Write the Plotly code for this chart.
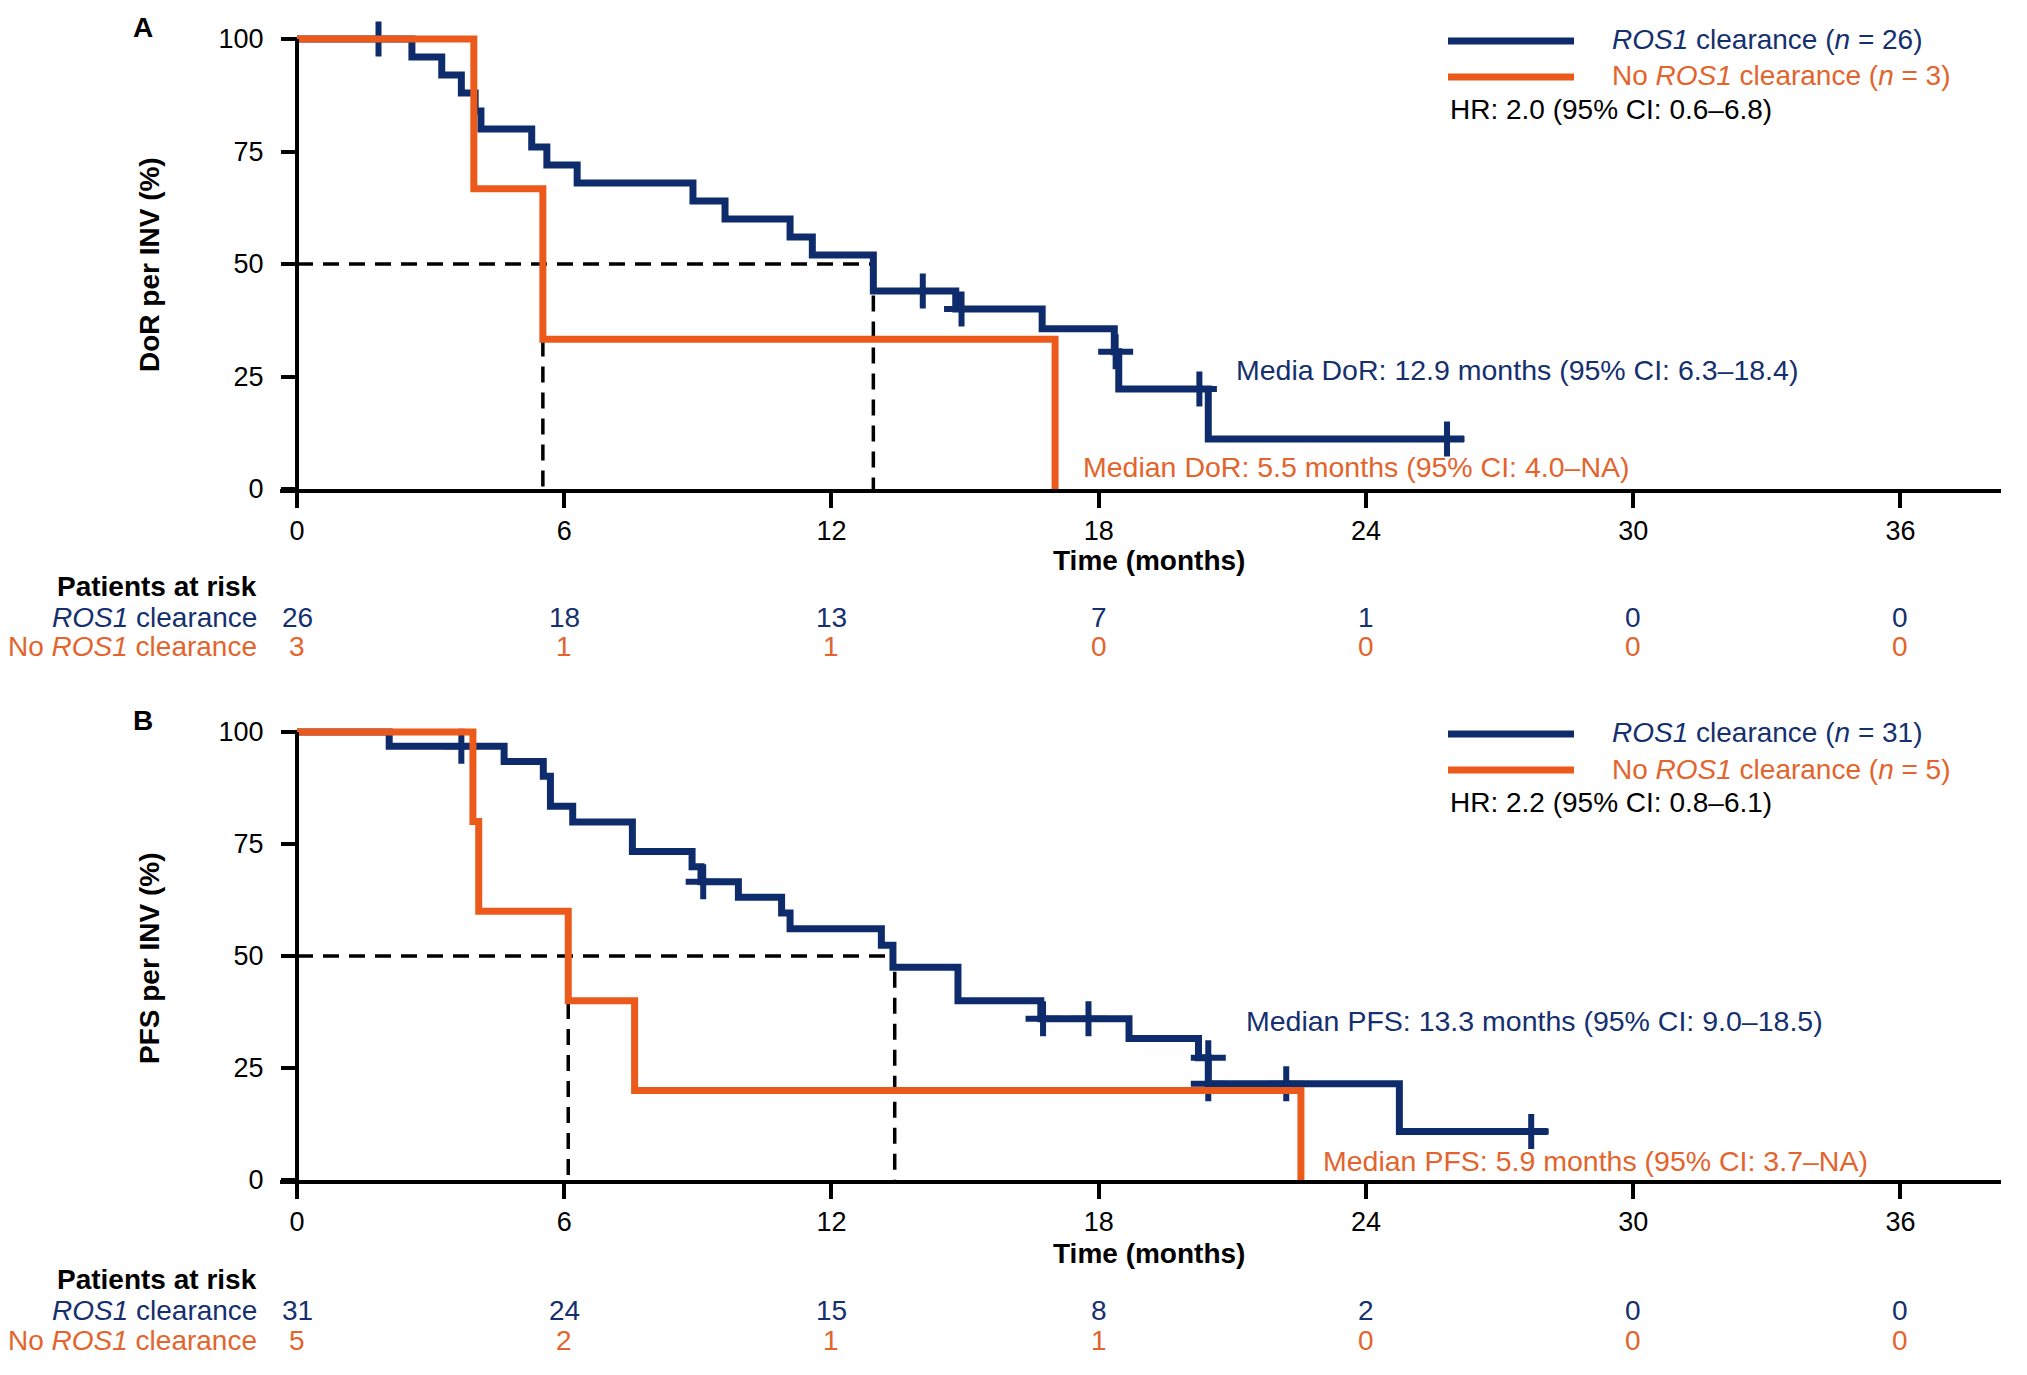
import plotly.graph_objects as go

W, H = 2027, 1375
PAGE_OFFSET = 8  # default body margin of the html page
NAVY = '#0e2c6c'
NAVY_TXT = '#15306e'
ORANGE = '#ec5a1b'
ORANGE_TXT = '#e3642c'
FONT = 'Arial, Liberation Sans, Helvetica, sans-serif'

# ---------------- data ----------------
risk_times = [0, 6, 12, 18, 24, 30, 36]
x_ticks = [0, 6, 12, 18, 24, 30, 36]
y_ticks = [0, 25, 50, 75, 100]

# Panel A: DoR per INV
a_clear_t = [0, 2.58, 3.25, 3.69, 4.0, 4.13, 5.27, 5.61, 6.29, 8.89, 9.61, 11.07, 11.57,
             12.94, 14.79, 16.73, 18.35, 18.45, 20.46, 26.2]
a_clear_s = [100, 96, 92, 88, 84, 80, 76, 72, 68, 64, 60, 56, 52,
             44, 40, 35.6, 30.5, 22.2, 11.1, 11.1]
a_clear_cens_t = [1.83, 14.05, 14.92, 18.38, 20.26, 25.82]
a_clear_cens_s = [100, 44, 40, 30.5, 22.2, 11.1]
a_no_t = [0, 3.97, 5.52, 17.02]
a_no_s = [100, 66.7, 33.3, 0]
a_med_clear = 12.94
a_med_clear_top = 43
a_med_no = 5.52
a_med_no_top = 33
a_risk_clear = [26, 18, 13, 7, 1, 0, 0]
a_risk_no = [3, 1, 1, 0, 0, 0, 0]

# Panel B: PFS per INV
b_clear_t = [0, 2.07, 4.65, 5.53, 5.69, 6.19, 7.53, 8.87, 9.07, 9.91, 10.88, 11.07,
             13.12, 13.38, 14.84, 16.7, 18.68, 20.24, 20.46, 24.75, 28.08]
b_clear_s = [100, 96.8, 93.4, 90.1, 83.4, 79.9, 73.3, 69.9, 66.6, 63.1, 59.6, 56.1,
             52.4, 47.5, 40.0, 36.0, 31.6, 27.3, 21.5, 10.8, 10.8]
b_clear_cens_t = [3.69, 9.12, 16.75, 17.77, 20.46, 20.46, 22.21, 27.71]
b_clear_cens_s = [96.8, 66.6, 36.0, 36.0, 27.3, 21.5, 21.5, 10.8]
b_no_t = [0, 3.95, 4.08, 6.09, 7.58, 22.54]
b_no_s = [100, 80, 60, 40, 20, 0]
b_med_clear = 13.42
b_med_clear_top = 46.5
b_med_no = 6.09
b_med_no_top = 39.5
b_risk_clear = [31, 24, 15, 8, 2, 0, 0]
b_risk_no = [5, 2, 1, 1, 0, 0, 0]

panels = [
    dict(letter='A', ytitle='DoR per INV (%)', ct=a_clear_t, cs=a_clear_s,
         cct=a_clear_cens_t, ccs=a_clear_cens_s, nt=a_no_t, ns=a_no_s,
         mc=a_med_clear, mct=a_med_clear_top, mn=a_med_no, mnt=a_med_no_top,
         rc=a_risk_clear, rn=a_risk_no, n_c=26, n_n=3, hr='HR: 2.0 (95% CI: 0.6–6.8)',
         med_c='Media DoR: 12.9 months (95% CI: 6.3–18.4)', med_c_xy=(1234, 370),
         med_n='Median DoR: 5.5 months (95% CI: 4.0–NA)', med_n_xy=(1081, 467),
         off=0),
    dict(letter='B', ytitle='PFS per INV (%)', ct=b_clear_t, cs=b_clear_s,
         cct=b_clear_cens_t, ccs=b_clear_cens_s, nt=b_no_t, ns=b_no_s,
         mc=b_med_clear, mct=b_med_clear_top, mn=b_med_no, mnt=b_med_no_top,
         rc=b_risk_clear, rn=b_risk_no, n_c=31, n_n=5, hr='HR: 2.2 (95% CI: 0.8–6.1)',
         med_c='Median PFS: 13.3 months (95% CI: 9.0–18.5)', med_c_xy=(1244, 1021),
         med_n='Median PFS: 5.9 months (95% CI: 3.7–NA)', med_n_xy=(1321, 1161),
         off=693),
]

# ---------------- layout geometry (screen pixels) ----------------
X0_PX = 297.0          # x = 0 months
PX_PER_MONTH = 44.54
X_LEFT, X_RIGHT = -0.38, 38.26
AXIS0_PX = [489.0, 1180.0]   # y = 0 for each panel
PX_PER_PCT = [4.50, 4.48]
Y_TOP = 101.5


def px(x):
    return (x - PAGE_OFFSET) / W


def py(y):
    return 1 - (y - PAGE_OFFSET) / H


def txt(text, x, y, color='black', size=28, xanchor='center', xref='paper', angle=0):
    return dict(text=text, x=x, y=y, xref=xref, yref='paper', showarrow=False,
                xanchor=xanchor, yanchor='middle', textangle=angle,
                font=dict(family=FONT, size=size, color=color))


fig = go.Figure()
annotations = []
shapes = []
layout_axes = {}

for i, p in enumerate(panels):
    xa = 'x' if i == 0 else 'x2'
    ya = 'y' if i == 0 else 'y2'
    xkey = 'xaxis' if i == 0 else 'xaxis2'
    ykey = 'yaxis' if i == 0 else 'yaxis2'
    off = p['off']

    x_dom = [px(X0_PX + X_LEFT * PX_PER_MONTH), px(X0_PX + X_RIGHT * PX_PER_MONTH)]
    y_bottom = AXIS0_PX[i]
    y_top = y_bottom - Y_TOP * PX_PER_PCT[i]
    y_dom = [py(y_bottom), py(y_top)]

    layout_axes[xkey] = dict(
        domain=x_dom, range=[X_LEFT, X_RIGHT], anchor=ya, automargin=False,
        tickmode='array', tickvals=x_ticks, ticktext=[str(v) for v in x_ticks],
        ticks='outside', ticklen=15, tickwidth=4, tickcolor='black',
        showline=True, linewidth=4, linecolor='black',
        showgrid=False, zeroline=False,
        tickfont=dict(family=FONT, size=27, color='black'),
        ticklabelstandoff=0, fixedrange=True,
    )
    layout_axes[ykey] = dict(
        domain=y_dom, range=[0, Y_TOP], anchor='free', position=px(X0_PX),
        automargin=False,
        tickmode='array', tickvals=y_ticks, ticktext=[str(v) for v in y_ticks],
        ticks='outside', ticklen=16, tickwidth=4, tickcolor='black',
        showline=False, showgrid=False, zeroline=False,
        tickfont=dict(family=FONT, size=27, color='black'),
        ticklabelstandoff=12, fixedrange=True,
    )
    # y axis line from 0 to 100
    shapes.append(dict(type='line', xref=xa, yref=ya, x0=0, x1=0, y0=0, y1=100,
                       line=dict(color='black', width=4), layer='above'))

    dash = dict(color='black', width=3.5, dash='16px,10px')
    # median reference lines
    fig.add_trace(go.Scatter(x=[0, p['mc']], y=[50, 50], mode='lines', line=dash,
                             xaxis=xa, yaxis=ya, hoverinfo='skip', showlegend=False))
    fig.add_trace(go.Scatter(x=[p['mc'], p['mc']], y=[p['mct'], 0], mode='lines', line=dash,
                             xaxis=xa, yaxis=ya, hoverinfo='skip', showlegend=False))
    fig.add_trace(go.Scatter(x=[p['mn'], p['mn']], y=[p['mnt'], 0], mode='lines', line=dash,
                             xaxis=xa, yaxis=ya, hoverinfo='skip', showlegend=False))

    # KM curves
    fig.add_trace(go.Scatter(x=p['ct'], y=p['cs'], mode='lines', line_shape='hv',
                             line=dict(color=NAVY, width=7), xaxis=xa, yaxis=ya,
                             showlegend=False))
    fig.add_trace(go.Scatter(x=p['cct'], y=p['ccs'], mode='markers',
                             marker=dict(symbol='cross-thin', size=25,
                                         line=dict(color=NAVY, width=6)),
                             xaxis=xa, yaxis=ya, showlegend=False, cliponaxis=False))
    fig.add_trace(go.Scatter(x=p['nt'], y=p['ns'], mode='lines', line_shape='hv',
                             line=dict(color=ORANGE, width=7), xaxis=xa, yaxis=ya,
                             showlegend=False))

    annotations.append(txt('<b>%s</b>' % p['letter'], px(143), py(27 + off)))
    annotations.append(txt('<b>%s</b>' % p['ytitle'], px(149), py(265 + off), angle=-90))
    annotations.append(txt('<b>Time (months)</b>', px(1149), py(560 + off)))
    annotations.append(txt('<b>Patients at risk</b>', px(259), py(586 + off), xanchor='right'))
    annotations.append(txt('<i>ROS1</i> clearance', px(259), py(617 + off), NAVY_TXT,
                           xanchor='right'))
    annotations.append(txt('No <i>ROS1</i> clearance', px(259), py(647 + off), ORANGE_TXT,
                           xanchor='right'))
    for t, vc, vn in zip(risk_times, p['rc'], p['rn']):
        annotations.append(txt(str(vc), t, py(617 + off), NAVY_TXT, xref=xa))
        annotations.append(txt(str(vn), t, py(647 + off), ORANGE_TXT, xref=xa))

    # legend block
    shapes.append(dict(type='line', xref='paper', yref='paper', x0=px(1448), x1=px(1574),
                       y0=py(41 + off), y1=py(41 + off), line=dict(color=NAVY, width=7)))
    shapes.append(dict(type='line', xref='paper', yref='paper', x0=px(1448), x1=px(1574),
                       y0=py(77 + off), y1=py(77 + off), line=dict(color=ORANGE, width=7)))
    annotations.append(txt('<i>ROS1</i> clearance (<i>n</i> = %d)' % p['n_c'],
                           px(1610), py(40 + off), NAVY_TXT, xanchor='left'))
    annotations.append(txt('No <i>ROS1</i> clearance (<i>n</i> = %d)' % p['n_n'],
                           px(1610), py(76 + off), ORANGE_TXT, xanchor='left'))
    annotations.append(txt(p['hr'], px(1448), py(110 + off), xanchor='left'))
    # median labels
    annotations.append(txt(p['med_c'], px(p['med_c_xy'][0]), py(p['med_c_xy'][1]),
                           NAVY_TXT, size=28.5, xanchor='left'))
    annotations.append(txt(p['med_n'], px(p['med_n_xy'][0]), py(p['med_n_xy'][1]),
                           ORANGE_TXT, size=28.5, xanchor='left'))

fig.update_layout(
    width=W, height=H, margin=dict(l=0, r=0, t=0, b=0, autoexpand=False),
    paper_bgcolor='white', plot_bgcolor='white',
    showlegend=False, annotations=annotations, shapes=shapes,
    font=dict(family=FONT, size=28, color='black'),
    **layout_axes,
)

fig.write_html('out.html')
